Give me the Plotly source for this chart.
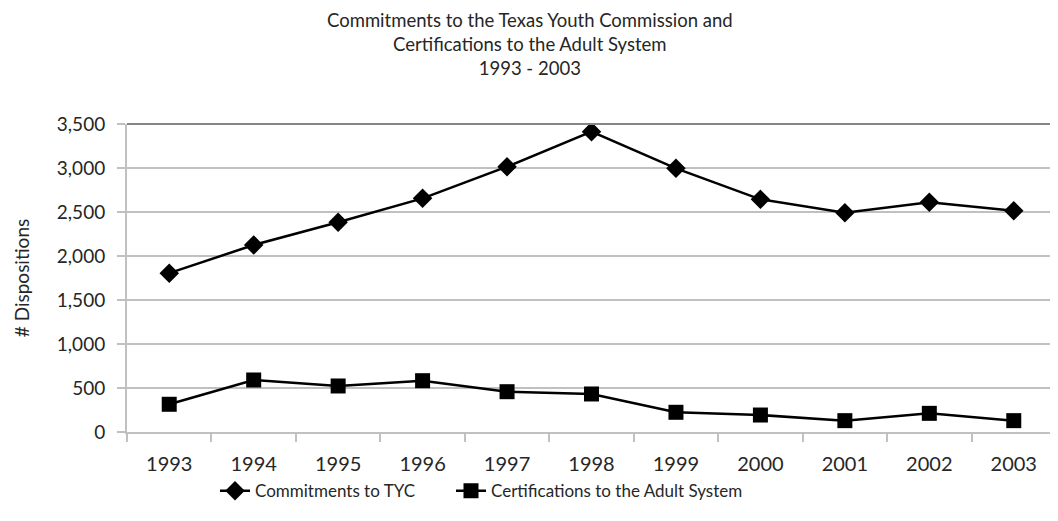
import plotly.graph_objects as go

years = ["1993", "1994", "1995", "1996", "1997", "1998", "1999", "2000", "2001", "2002", "2003"]
commitments = [1805, 2125, 2383, 2655, 3015, 3413, 2996, 2644, 2492, 2610, 2515]
certifications = [315, 591, 523, 583, 458, 432, 224, 193, 129, 212, 129]

title_lines = ["Commitments to the Texas Youth Commission and",
               "Certifications to the Adult System",
               "1993 - 2003"]

FONT = "Lato, Open Sans, DejaVu Sans, sans-serif"
GRID = "#c0c0c0"
TXT = "#262626"

# figure is offset by the page's 8px body margin
L, T, R, B = 119, 116, 10, 97
W, H = 1058, 521
PH = H - T - B
PW = W - L - R

fig = go.Figure()
fig.add_trace(go.Scatter(
    x=years, y=commitments, name="Commitments to TYC",
    mode="lines+markers", legend="legend",
    line=dict(color="black", width=2.5),
    marker=dict(symbol="diamond", size=15, color="black"),
))
fig.add_trace(go.Scatter(
    x=years, y=certifications, name="Certifications to the Adult System",
    mode="lines+markers", legend="legend2",
    line=dict(color="black", width=2.5),
    marker=dict(symbol="square", size=15, color="black"),
))

legend_common = dict(orientation="h", y=-0.134, yanchor="top", xanchor="left",
                     font=dict(family=FONT, size=17, color=TXT),
                     bgcolor="rgba(0,0,0,0)")

fig.update_layout(
    width=W, height=H,
    margin=dict(l=L, r=R, t=T, b=B),
    paper_bgcolor="white", plot_bgcolor="white",
    font=dict(family=FONT, size=19, color=TXT),
    showlegend=True,
    legend=dict(x=(207 - L) / PW, **legend_common),
    legend2=dict(x=(443 - L) / PW, **legend_common),
    xaxis=dict(
        type="category", range=[-0.5, 10.5], showgrid=False, showline=True,
        linecolor=GRID, linewidth=2,
        ticks="outside", tickson="boundaries", ticklen=8, tickcolor=GRID, tickwidth=2,
        tickfont=dict(size=20), zeroline=False, ticklabelstandoff=13,
    ),
    yaxis=dict(
        range=[0, 3500], dtick=500, tickformat=",", showgrid=True, gridcolor=GRID, gridwidth=2,
        showline=True, linecolor=GRID, linewidth=2, ticks="outside", ticklen=8,
        tickcolor=GRID, tickwidth=2, zeroline=False, ticklabelstandoff=8,
        title=dict(text="# Dispositions", font=dict(size=19), standoff=22),
        tickfont=dict(size=19),
    ),
)
fig.add_shape(type="line", xref="paper", yref="paper", x0=0, x1=1, y0=1, y1=1,
              line=dict(color="#868686", width=2))

fig.add_annotation(text="<br>".join(title_lines), xref="paper", yref="paper",
                   x=(522 - L) / PW, y=1 + (T - 36.5) / PH,
                   xanchor="center", yanchor="middle", align="center",
                   showarrow=False, borderpad=0,
                   font=dict(family=FONT, size=18.5, color=TXT))

fig.write_html("out.html")
